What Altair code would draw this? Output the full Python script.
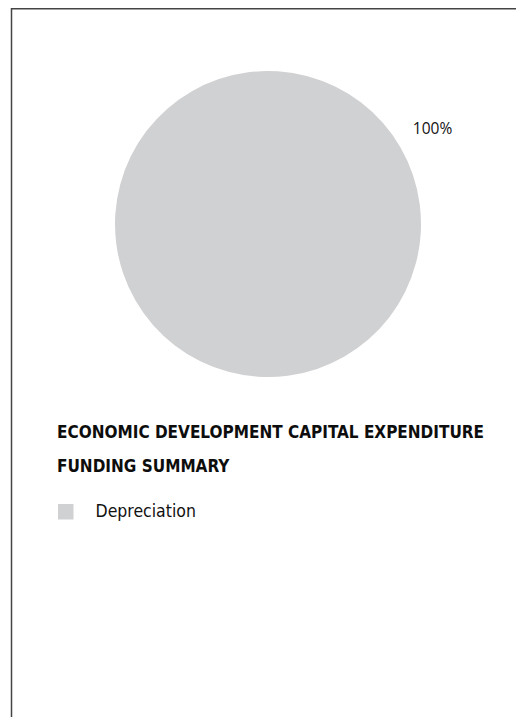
import altair as alt
import pandas as pd
import math

categories = ["Depreciation"]
values = [100]
colors = ["#d0d1d3"]
title_lines = ["ECONOMIC DEVELOPMENT CAPITAL EXPENDITURE", "FUNDING SUMMARY"]

W, H = 508, 709
CX, CY, R = 260, 216, 153
COND = "DejaVu Sans Condensed, Roboto, sans-serif"

df = pd.DataFrame({"category": categories, "value": values})

theta_scale = alt.Scale(range=[-2 * math.pi / 3, 4 * math.pi / 3])

base = alt.Chart(df)

pie = base.mark_arc(radius=R, stroke=None).encode(
    theta=alt.Theta("value:Q", stack=True, scale=theta_scale),
    color=alt.Color(
        "category:N",
        scale=alt.Scale(domain=categories, range=colors),
        legend=alt.Legend(
            title=None,
            orient="none",
            legendX=49,
            legendY=495,
            symbolType="square",
            symbolSize=240,
            symbolStrokeWidth=0,
            labelFont=COND,
            labelFontSize=17.5,
            labelColor="#111111",
            labelOffset=21,
        ),
    ),
    x=alt.value(CX),
    y=alt.value(CY),
)

labels = base.transform_joinaggregate(total="sum(value)").transform_calculate(
    share="datum.value / datum.total"
).mark_text(radius=190, font="Open Sans", fontSize=15.5, color="#111111").encode(
    theta=alt.Theta("value:Q", stack=True, scale=theta_scale),
    text=alt.Text("share:Q", format=".0%"),
    x=alt.value(CX),
    y=alt.value(CY),
)

tdf = pd.DataFrame({"line": title_lines, "i": list(range(len(title_lines)))})
title = alt.Chart(tdf).mark_text(
    align="left", baseline="alphabetic", font=COND,
    fontSize=17, fontWeight="bold", color="#0d0d0d"
).encode(
    text="line:N",
    x=alt.value(49),
    y=alt.Y("i:Q", scale=alt.Scale(domain=[0, 1], range=[430, 464]), axis=None),
)

frame_top = alt.Chart(df).mark_rule(color="#444444", strokeWidth=1.5).encode(
    x=alt.value(3), x2=alt.value(W), y=alt.value(0.75)
)
frame_left = alt.Chart(df).mark_rule(color="#444444", strokeWidth=1.5).encode(
    x=alt.value(3.5), y=alt.value(0), y2=alt.value(H)
)

chart = alt.layer(frame_top, frame_left, pie, labels, title).properties(
    width=W, height=H, padding=0, autosize="none"
).configure_view(stroke=None)

chart.save("out.html", embed_options={"renderer": "svg", "actions": False})
